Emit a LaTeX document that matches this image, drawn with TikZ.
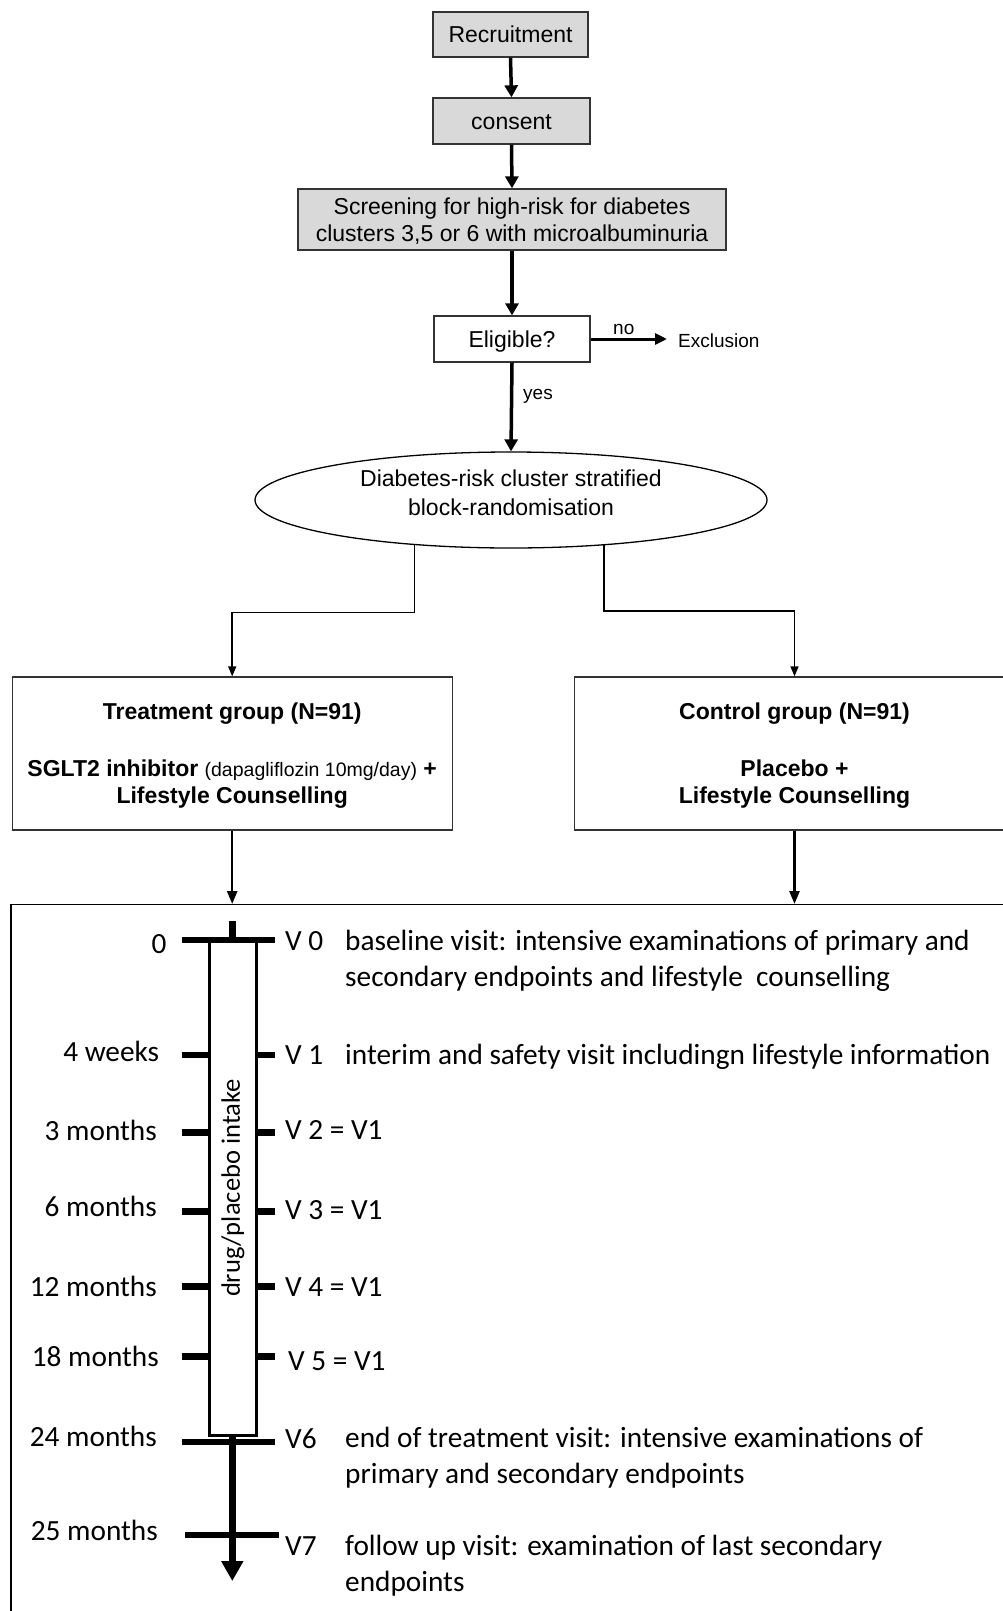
\documentclass[tikz,border=0pt]{standalone}
\usepackage{fontspec}
\setmainfont{Liberation Sans}
\newfontfamily\calfont{Carlito}
\usetikzlibrary{arrows.meta,shapes.geometric}
\definecolor{boxgray}{HTML}{D9D9D9}
\definecolor{edgegray}{HTML}{333333}
\begin{document}
\begin{tikzpicture}[x=1pt,y=-1pt,
  every node/.style={font=\fontsize{23}{27}\selectfont},
  gbox/.style={draw=edgegray, line width=1.3pt, fill=boxgray, inner sep=0pt, align=center, text height=16.5pt, text depth=0pt},
  wbox/.style={draw=edgegray, line width=1.3pt, fill=white, inner sep=0pt, align=center, text height=16.5pt, text depth=0pt},
  grpbox/.style={draw=edgegray, line width=1.3pt, inner sep=0pt, align=center,
     minimum width=440pt, minimum height=153pt, text depth=0pt},
  bigarrow/.style={line width=3.5pt, -{Triangle[length=12pt,width=13pt]}},
  midarrow/.style={line width=2.5pt, -{Triangle[length=13pt,width=10pt]}},
  thinarrow/.style={line width=1.5pt, -{Triangle[length=10pt,width=8pt]}},
  smalltxt/.style={font=\fontsize{19}{23}\selectfont, inner sep=0pt},
  tltxt/.style={font=\calfont\fontsize{29.3}{36}\selectfont, inner sep=0pt},
  tick/.style={line width=6.5pt},
  wall/.style={line width=3pt}
]
\useasboundingbox (0,0) rectangle (1002,1611);

% top flow
\node[gbox, minimum width=155pt, minimum height=45pt] (rec) at (510.5,34.5) {Recruitment};
\node[gbox, minimum width=157pt, minimum height=46pt] (cons) at (511.5,121) {consent};
\node[gbox, minimum width=428pt, minimum height=61pt, text height=44.4pt] (scr) at (512,219.5)
  {Screening for high-risk for diabetes\\clusters 3,5 or 6 with microalbuminuria};
\node[wbox, minimum width=156pt, minimum height=46pt] (elig) at (512,339) {Eligible?};
\node[smalltxt, anchor=base west] (excl) at (678,347.7) {Exclusion};
\node[smalltxt, anchor=base west] (no) at (613,334) {no};
\node[smalltxt, anchor=base west] (yes) at (523,399) {yes};
\node[ellipse, draw=black, line width=1.3pt, minimum width=512pt, minimum height=96pt,
  inner sep=0pt, align=center, text depth=14pt,
  font=\fontsize{23}{29}\selectfont] (ell) at (511,500)
  {Diabetes-risk cluster stratified\\block-randomisation};

\draw[bigarrow] (rec.south) -- (cons.north);
\draw[bigarrow] (cons.south) -- (scr.north);
\draw[bigarrow] (scr.south) -- (elig.north);
\draw[bigarrow] (elig.south) -- (ell.north);
\draw[line width=3pt, -{Triangle[length=12pt,width=11pt]}, shorten >=11pt] (elig.east) -- (elig.east -| excl.west);

% groups
\node[grpbox] (treat) at (232.2,753.5)
  {\textbf{Treatment group (N=91)}\\[30pt]
   \textbf{SGLT2 inhibitor} {\fontsize{19.5}{27}\selectfont(dapagliflozin 10mg/day)} \textbf{+}\\
   \textbf{Lifestyle Counselling}};
\node[grpbox] (ctrl) at (794.5,753.5)
  {\textbf{Control group (N=91)}\\[30pt]
   \textbf{Placebo +}\\
   \textbf{Lifestyle Counselling}};

\draw[thinarrow] (ell.205) -- (ell.205 |- 0,612.7) -| (treat.north);
\draw[thinarrow] (ell.-26.5) -- (ell.-26.5 |- 0,611) -| (ctrl.north);

% timeline frame
\node[draw=black, line width=1.3pt, inner sep=0pt, minimum width=1010pt, minimum height=730pt,
  anchor=north west] (frame) at (10.3,904) {};
\draw[midarrow] (treat.south) -- (treat.south |- frame.north);
\draw[midarrow] (ctrl.south) -- (ctrl.south |- frame.north);

% syringe
\draw[wall, fill=white] (209,940) rectangle (256.7,1435);
\node[rotate=90, font=\calfont\fontsize{26.6}{30}\selectfont, inner sep=0pt] (drug) at (233,1188) {drug/placebo intake};
\foreach \yy in {1055,1132.7,1211.7,1286.7,1356.7}{
  \draw[tick] (181.7,\yy) -- (209,\yy);
  \draw[tick] (256.7,\yy) -- (275,\yy);
}
\draw[tick] (181.7,940) -- (275,940);
\draw[tick] (232.3,921) -- (232.3,940);
\draw[line width=6.5pt, -{Triangle[length=20pt,width=21pt]}] (232.3,1435) -- (232.3,1581);
\draw[tick] (181.7,1442) -- (275,1442);
\draw[tick] (185,1535) -- (279,1535);

% left labels
\node[tltxt, anchor=base east] (t0) at (166.7,953) {0};
\node[tltxt, anchor=base east] (t1) at (159.3,1061.5) {4 weeks};
\node[tltxt, anchor=base east] (t2) at (157,1140.5) {3 months};
\node[tltxt, anchor=base east] (t3) at (157,1216) {6 months};
\node[tltxt, anchor=base east] (t4) at (157,1296.7) {12 months};
\node[tltxt, anchor=base east] (t5) at (159,1366) {18 months};
\node[tltxt, anchor=base east] (t6) at (157,1446.7) {24 months};
\node[tltxt, anchor=base east] (t7) at (158,1540) {25 months};

% right labels
\node[tltxt, anchor=base west] (v0) at (285,950) {V 0};
\node[tltxt, anchor=base west] (d0) at (345,950)
  {\begin{tabular}[t]{@{}l@{}}baseline visit: intensive examinations of primary and\\secondary endpoints and lifestyle\ \ counselling\end{tabular}};
\node[tltxt, anchor=base west] (v1) at (285,1064.3) {V 1};
\node[tltxt, anchor=base west] (d1) at (345,1064.3) {interim and safety visit includingn lifestyle information};
\node[tltxt, anchor=base west] (v2) at (285,1139) {V 2 = V1};
\node[tltxt, anchor=base west] (v3) at (285,1219) {V 3 = V1};
\node[tltxt, anchor=base west] (v4) at (285,1296) {V 4 = V1};
\node[tltxt, anchor=base west] (v5) at (288,1370) {V 5 = V1};
\node[tltxt, anchor=base west] (v6) at (285,1448) {V6};
\node[tltxt, anchor=base west] (d6) at (345,1447)
  {\begin{tabular}[t]{@{}l@{}}end of treatment visit: intensive examinations of\\primary and secondary endpoints\end{tabular}};
\node[tltxt, anchor=base west] (v7) at (285,1555) {V7};
\node[tltxt, anchor=base west] (d7) at (345,1555)
  {\begin{tabular}[t]{@{}l@{}}follow up visit: examination of last secondary\\endpoints\end{tabular}};
\end{tikzpicture}
\end{document}
